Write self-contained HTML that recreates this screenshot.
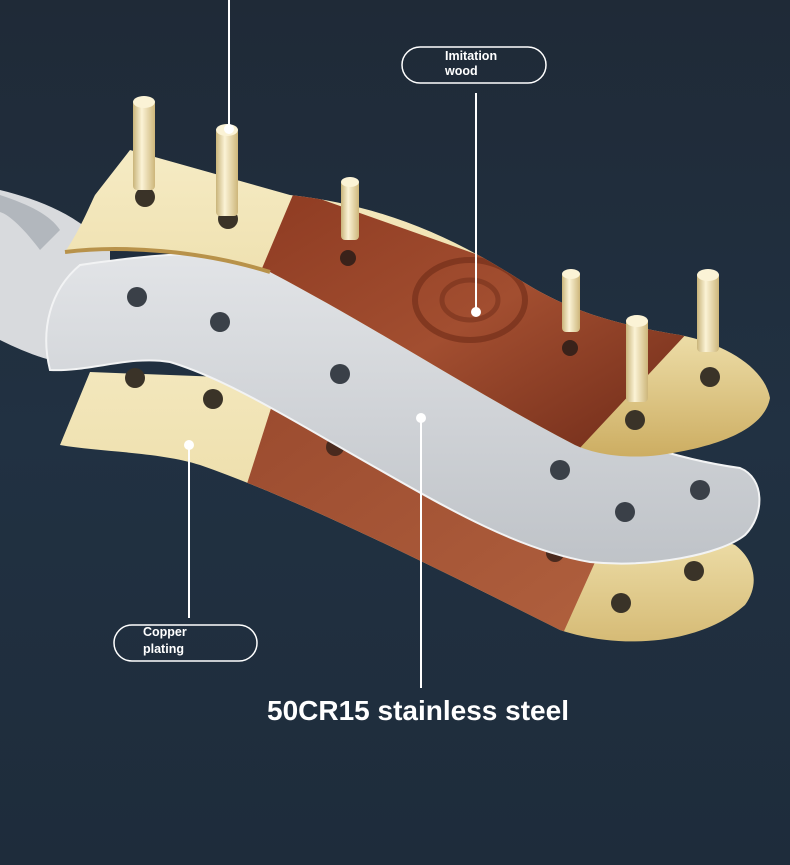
<!DOCTYPE html>
<html><head><meta charset="utf-8"><style>
html,body{margin:0;padding:0;width:790px;height:865px;overflow:hidden;background:#1f2c3a}
svg{display:block}
</style></head><body>
<svg width="790" height="865" viewBox="0 0 790 865" xmlns="http://www.w3.org/2000/svg">
<defs>
<linearGradient id="bg" x1="0" y1="0" x2="0" y2="1"><stop offset="0" stop-color="#1f2a37"/><stop offset="0.5" stop-color="#213142"/><stop offset="1" stop-color="#1e2c3b"/></linearGradient>
<linearGradient id="brass" x1="0" y1="0" x2="0" y2="1"><stop offset="0" stop-color="#f6ecc6"/><stop offset="0.6" stop-color="#ecdca6"/><stop offset="1" stop-color="#c9a85a"/></linearGradient>
<linearGradient id="wood" x1="0" y1="0" x2="1" y2="1"><stop offset="0" stop-color="#8e3b22"/><stop offset="0.5" stop-color="#a24e30"/><stop offset="1" stop-color="#6e2a18"/></linearGradient>
<linearGradient id="wood2" x1="0" y1="0" x2="1" y2="1"><stop offset="0" stop-color="#9a4a2e"/><stop offset="1" stop-color="#b0603e"/></linearGradient>
<linearGradient id="steel" x1="0" y1="0" x2="0" y2="1"><stop offset="0" stop-color="#e2e4e7"/><stop offset="1" stop-color="#bfc3c8"/></linearGradient>
<linearGradient id="pin" x1="0" y1="0" x2="1" y2="0"><stop offset="0" stop-color="#c9b47a"/><stop offset="0.4" stop-color="#fbf3d6"/><stop offset="1" stop-color="#cdb67a"/></linearGradient>
<clipPath id="botc"><path d="M90,372 L60,445 C100,452 160,452 200,465 C300,500 420,560 560,630 C620,650 700,645 745,605 C760,585 755,560 735,545 L300,380 Z"/></clipPath>
<clipPath id="topc"><path d="M130,150 L290,195 C380,205 450,235 520,280 C560,305 600,322 680,335 C730,345 765,370 770,398 C765,425 730,445 660,455 C620,460 590,452 575,445 C470,390 380,330 270,272 C200,250 120,245 65,252 C80,230 90,205 95,195 Z"/></clipPath>
</defs>
<rect width="790" height="865" fill="url(#bg)"/>

<g clip-path="url(#botc)">
<rect x="0" y="300" width="790" height="400" fill="url(#brass)"/>
<polygon points="280,380 245,490 560,640 605,540" fill="url(#wood2)"/>
</g>
<circle cx="135" cy="378" r="10" fill="#3a3328"/><circle cx="213" cy="399" r="10" fill="#3a3328"/>
<circle cx="621" cy="603" r="10" fill="#3a3328"/><circle cx="694" cy="571" r="10" fill="#3a3328"/>
<circle cx="335" cy="447" r="9" fill="#4a2a1e"/><circle cx="555" cy="553" r="9" fill="#4a2a1e"/>

<path d="M0,190 C40,200 80,215 110,250 L110,360 C80,372 40,360 0,340 Z" fill="#d8dadd"/>
<path d="M0,195 C30,205 50,215 60,230 L40,250 C25,230 10,215 0,212 Z" fill="#9aa0a8" opacity="0.6"/>

<path d="M80,265 C150,255 230,245 280,268 C340,300 420,345 520,395 C600,435 680,460 740,468 C765,478 765,515 745,535 C720,555 650,568 590,562 C520,550 450,510 380,470 C300,425 230,380 170,362 C130,355 90,372 50,370 C40,330 50,290 80,265 Z" fill="url(#steel)" stroke="#f2f3f4" stroke-width="2"/>
<g fill="#3a4048"><circle cx="137" cy="297" r="10"/><circle cx="220" cy="322" r="10"/><circle cx="340" cy="374" r="10"/><circle cx="560" cy="470" r="10"/><circle cx="625" cy="512" r="10"/><circle cx="700" cy="490" r="10"/></g>

<g clip-path="url(#topc)">
<rect x="0" y="140" width="790" height="330" fill="url(#brass)"/>
<polygon points="295,190 255,285 578,450 690,330" fill="url(#wood)"/>
<ellipse cx="470" cy="300" rx="55" ry="40" fill="none" stroke="#6e2c18" stroke-width="6" opacity="0.6"/>
<ellipse cx="470" cy="300" rx="28" ry="20" fill="none" stroke="#6e2c18" stroke-width="5" opacity="0.5"/>
</g>
<path d="M65,252 C120,245 200,250 270,272" fill="none" stroke="#b8924a" stroke-width="4"/>
<g fill="#3a3328"><circle cx="145" cy="197" r="10"/><circle cx="228" cy="219" r="10"/><circle cx="635" cy="420" r="10"/><circle cx="710" cy="377" r="10"/></g>
<circle cx="348" cy="258" r="8" fill="#3a221a"/><circle cx="570" cy="348" r="8" fill="#3a221a"/>

<g fill="url(#pin)">
<rect x="133" y="100" width="22" height="90" rx="4"/><ellipse cx="144" cy="102" rx="11" ry="6" fill="#fbf3d6"/>
<rect x="216" y="128" width="22" height="88" rx="4"/><ellipse cx="227" cy="130" rx="11" ry="6" fill="#fbf3d6"/>
<rect x="341" y="180" width="18" height="60" rx="4"/><ellipse cx="350" cy="182" rx="9" ry="5" fill="#fbf3d6"/>
<rect x="562" y="272" width="18" height="60" rx="4"/><ellipse cx="571" cy="274" rx="9" ry="5" fill="#fbf3d6"/>
<rect x="697" y="272" width="22" height="80" rx="4"/><ellipse cx="708" cy="275" rx="11" ry="6" fill="#fbf3d6"/>
<rect x="626" y="318" width="22" height="84" rx="4"/><ellipse cx="637" cy="321" rx="11" ry="6" fill="#fbf3d6"/>
</g>

<g stroke="#fff" stroke-width="2" fill="none">
<line x1="229" y1="0" x2="229" y2="125"/>
<line x1="476" y1="93" x2="476" y2="312"/>
<line x1="189" y1="448" x2="189" y2="618"/>
<line x1="421" y1="418" x2="421" y2="688"/>
<rect x="402" y="47" width="144" height="36" rx="18" stroke-width="1.5"/>
<rect x="114" y="625" width="143" height="36" rx="18" stroke-width="1.5"/>
</g>
<g fill="#fff"><circle cx="229" cy="129" r="5"/><circle cx="476" cy="312" r="5"/><circle cx="189" cy="445" r="5"/><circle cx="421" cy="418" r="5"/></g>
<g font-family="Liberation Sans, sans-serif" font-weight="bold" fill="#fff">
<text x="445" y="60" font-size="12.5">Imitation</text>
<text x="445" y="75" font-size="12.5">wood</text>
<text x="143" y="636" font-size="12.5">Copper</text>
<text x="143" y="653" font-size="12.5">plating</text>
<text x="418" y="720" font-size="28" text-anchor="middle">50CR15 stainless steel</text>
</g>
</svg>
</body></html>
